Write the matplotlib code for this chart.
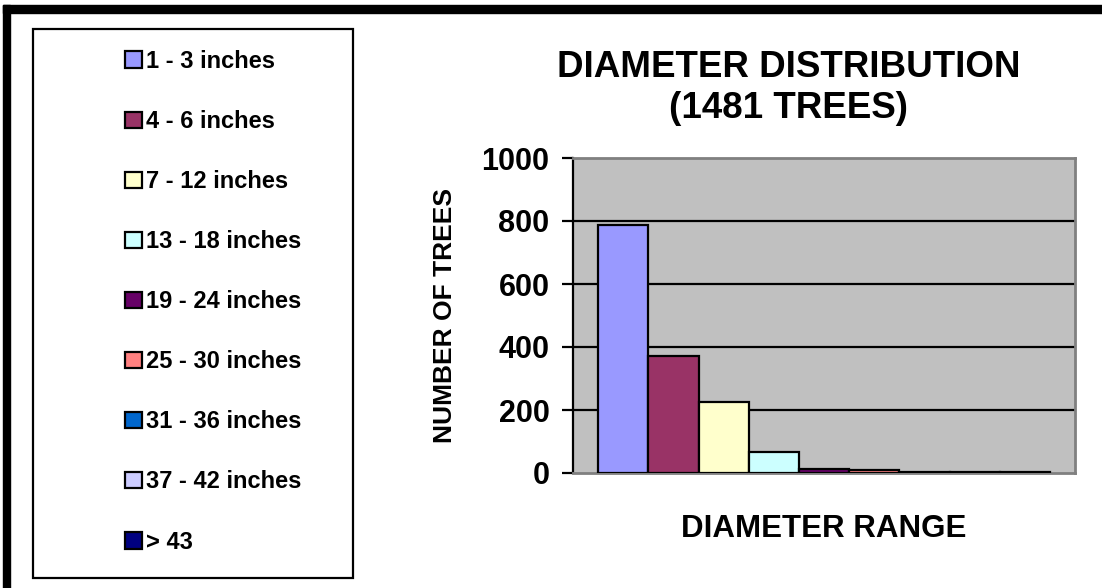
import matplotlib
matplotlib.use("Agg")
import matplotlib.pyplot as plt
from matplotlib.patches import Rectangle

plt.rcParams['font.family'] = ['Liberation Sans', 'DejaVu Sans']
plt.rcParams['font.weight'] = 'bold'

# data
ranges = ['1 - 3 inches', '4 - 6 inches', '7 - 12 inches', '13 - 18 inches',
          '19 - 24 inches', '25 - 30 inches', '31 - 36 inches',
          '37 - 42 inches', '> 43']
counts = [787, 373, 226, 67, 12, 8, 4, 2, 2]
colors = ['#9999FF', '#993366', '#FFFFCC', '#CCFFFF', '#660066',
          '#FF8080', '#0066CC', '#CCCCFF', '#000080']
yticks = [0, 200, 400, 600, 800, 1000]

W, H = 1102, 588
fig = plt.figure(figsize=(W / 100, H / 100), dpi=100)
fig.patch.set_facecolor('white')

# black frame bits (top and left)
fig.patches.append(Rectangle((3 / W, (H - 13) / H), 1, 8 / H,
                             transform=fig.transFigure, color='black', zorder=5))
fig.patches.append(Rectangle((3 / W, 0), 7 / W, (H - 5) / H,
                             transform=fig.transFigure, color='black', zorder=5))

ax = fig.add_axes([573 / W, 1 - 473 / H, (1075 - 573) / W, (473 - 158) / H])
ax.set_facecolor('#C0C0C0')

bars = []
for i, (lab, v, c) in enumerate(zip(ranges, counts, colors)):
    b = ax.bar(i, v, width=1.0, color=c, edgecolor='black', linewidth=1.6,
               label=lab, zorder=3)
    bars.append(b)

ax.set_xlim(-1, 9)
ax.set_ylim(0, 1000)
ax.set_xticks([])
ax.set_yticks(yticks)
ax.set_yticklabels([str(t) for t in yticks], fontsize=22, fontweight='bold')
ax.tick_params(axis='y', length=8, width=1.6, pad=9, color='black')

ax.yaxis.grid(True, color='black', linewidth=1.6)
ax.set_axisbelow(True)
gl = ax.get_ygridlines()
gl[0].set_visible(False)
gl[-1].set_visible(False)

for s in ['top', 'right', 'bottom']:
    ax.spines[s].set_color('#808080')
    ax.spines[s].set_linewidth(2)
ax.spines['left'].set_color('black')
ax.spines['left'].set_linewidth(1.6)

ax.set_ylabel('NUMBER OF TREES', fontsize=19, fontweight='bold')
ax.yaxis.set_label_coords(-0.232, 0.5, transform=ax.transAxes)

fig.text(824 / W, 1 - 529 / H, 'DIAMETER RANGE', fontsize=22.5,
         fontweight='bold', ha='center', va='center')
fig.text(788.5 / W, 1 - 88 / H, 'DIAMETER DISTRIBUTION\n(1481 TREES)',
         fontsize=26.5, fontweight='bold', ha='center', va='center',
         linespacing=1.22)

# legend box
fig.patches.append(Rectangle((33 / W, 10 / H), (353 - 33) / W, (578 - 29) / H,
                             transform=fig.transFigure, fill=False,
                             edgecolor='black', linewidth=1.6, zorder=4))
leg = fig.legend(handles=bars, labels=ranges, loc='upper left',
                 bbox_to_anchor=(125 / W, 1 - 50 / H),
                 frameon=False, fontsize=17, handlelength=0.7, handleheight=0.7,
                 handletextpad=0.2, labelspacing=1.57, borderpad=0,
                 borderaxespad=0)

fig.savefig('out.png', dpi=100)
